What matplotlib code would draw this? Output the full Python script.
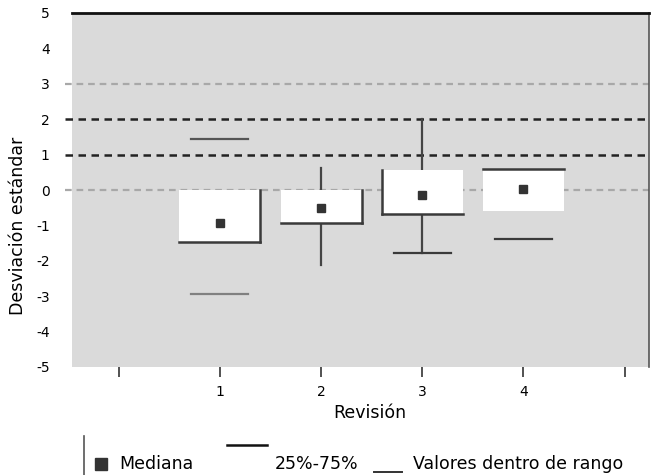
import matplotlib
matplotlib.use("Agg")
import matplotlib.pyplot as plt
from matplotlib.lines import Line2D
from matplotlib.patches import Rectangle

# data
revisions = [1, 2, 3, 4]
q1 = [-1.47, -0.92, -0.69, -0.58]
q3 = [0.0, 0.0, 0.56, 0.59]
medians = [-0.94, -0.50, -0.13, 0.03]
whisk_hi = [1.43, 0.62, 2.0, None]
whisk_lo = [-2.93, -2.12, -1.78, -1.39]
y_ticks = [5, 4, 3, 2, 1, 0, -1, -2, -3, -4, -5]
x_labels = ["", "1", "2", "3", "4", ""]
ref_lines = [3, 2, 1, 0]

# how each box was drawn in the original (styles, not data)
box_edges = [["bottom", "right"], ["bottom", "right"], ["left", "bottom"], ["top"]]
draw_stem = [False, True, True, False]
cap_hi = [True, False, False, False]
cap_lo = [True, False, True, True]
ref_styles = [("#a8a8a8", 1.6), ("#222222", 1.8), ("#222222", 1.8), ("#a8a8a8", 1.6)]

plt.rcParams["font.family"] = ["DejaVu Sans"]
label_fs = 12.5

fig = plt.figure(figsize=(6.51, 4.75), dpi=100)
ax = fig.add_axes([72 / 651, 1 - 367 / 475, 577 / 651, 354 / 475])
ax.set_facecolor("#dadada")
ax.set_xlim(-0.46, 5.24)
ax.set_ylim(-4.86, 5.0)

for v, (c, lw) in zip(ref_lines, ref_styles):
    ax.axhline(v, xmin=-0.012, xmax=1, color=c, lw=lw, ls=(0, (3, 2.2)),
               clip_on=False, zorder=1)

bw = 0.8
cw = 0.56
for i, x in enumerate(revisions):
    lo, hi = q1[i], q3[i]
    ax.add_patch(Rectangle((x - bw / 2, lo), bw, hi - lo, facecolor="white",
                           edgecolor="none", zorder=2))
    sides = {"bottom": ([x - bw / 2, x + bw / 2], [lo, lo]),
             "top": ([x - bw / 2, x + bw / 2], [hi, hi]),
             "left": ([x - bw / 2, x - bw / 2], [lo, hi]),
             "right": ([x + bw / 2, x + bw / 2], [lo, hi])}
    for s in box_edges[i]:
        xs, ys = sides[s]
        ax.plot(xs, ys, color="#3a3a3a", lw=1.8, zorder=3,
                solid_capstyle="projecting")
    if draw_stem[i]:
        ax.plot([x, x], [hi, whisk_hi[i]], color="#444444", lw=1.6, zorder=1.5)
        ax.plot([x, x], [lo, whisk_lo[i]], color="#444444", lw=1.6, zorder=1.5)
    if cap_hi[i] and whisk_hi[i] is not None:
        ax.plot([x - cw / 2, x + cw / 2], [whisk_hi[i]] * 2, color="#555555", lw=1.6)
    if cap_lo[i]:
        col = "#808080" if i == 0 else "#3a3a3a"
        ax.plot([x - cw / 2, x + cw / 2], [whisk_lo[i]] * 2, color=col, lw=1.6)
    ax.plot(x, medians[i], marker="s", ms=6, color="#333333", zorder=4)

ax.set_yticks(y_ticks)
ax.set_yticklabels([str(t) for t in y_ticks])
ax.tick_params(axis="y", length=0, pad=16, labelsize=10)
ax.set_xticks(range(6))
ax.set_xticklabels(x_labels)
ax.tick_params(axis="x", length=7, width=1.2, color="#333333", pad=6, labelsize=10)

for s in ["left", "bottom"]:
    ax.spines[s].set_visible(False)
ax.spines["top"].set_linewidth(2)
ax.spines["top"].set_color("#111111")
ax.spines["right"].set_color("#555555")
ax.spines["right"].set_linewidth(1.2)

ax.set_ylabel("Desviación estándar", fontsize=label_fs)
ax.yaxis.set_label_coords(-0.078, 0.40)
ax.set_xlabel("Revisión", fontsize=label_fs)
ax.xaxis.set_label_coords(0.516, -0.105)

# hand-drawn legend below the plot
def px(x, y):
    return x / 651, 1 - y / 475

fig.add_artist(Line2D(*zip(px(84, 436), px(84, 475)), color="#555555", lw=1.2))
fig.add_artist(Line2D([px(101, 0)[0]], [px(0, 464)[1]], marker="s", ms=9,
                      color="#333333", ls="none"))
fig.text(*px(119, 464), "Mediana", fontsize=label_fs, va="center")
fig.add_artist(Line2D(*zip(px(227, 445), px(267, 445)), color="#111111", lw=1.8))
fig.text(*px(275, 464), "25%-75%", fontsize=label_fs, va="center")
fig.add_artist(Line2D(*zip(px(374, 472), px(402, 472)), color="#333333", lw=1.4))
fig.text(*px(413, 464), "Valores dentro de rango", fontsize=label_fs, va="center")

fig.savefig("out.png", dpi=100)
